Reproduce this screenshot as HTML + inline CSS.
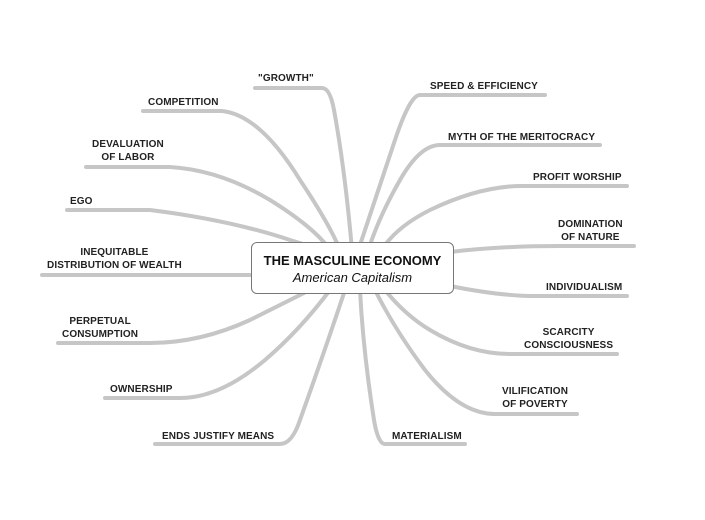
<!DOCTYPE html>
<html><head><style>
html,body{margin:0;padding:0;background:#fff;}
body{width:705px;height:520px;position:relative;overflow:hidden;font-family:"Liberation Sans",sans-serif;}
.t{position:absolute;font-size:10px;font-weight:bold;color:#222;text-align:center;line-height:13px;white-space:nowrap;letter-spacing:0.1px}
.box{position:absolute;left:251px;top:242px;width:201px;height:50px;border:1.5px solid #777;border-radius:6px;background:#fff;text-align:center;color:#111}
</style></head><body>
<svg width="705" height="520" style="position:absolute;left:0;top:0" fill="none" stroke="#c6c6c6" stroke-width="4" stroke-linecap="round">
<path d="M255 88 H322 Q330 88 334 110 Q345 170 352 250"/>
<path d="M143 111 H222 Q260 115 300 180 Q330 225 340 250"/>
<path d="M86 167 H170 Q220 170 270 200 Q315 228 330 250"/>
<path d="M67 210 H150 Q230 220 290 240 Q310 246 320 250"/>
<path d="M42 275 H260"/>
<path d="M58 343 H150 Q200 343 250 320 Q290 300 310 290"/>
<path d="M105 398 H180 Q220 398 265 360 Q300 330 330 290"/>
<path d="M155 444 H280 Q292 444 300 420 Q325 350 345 290"/>
<path d="M385 444 H465 M385 444 Q378 444 374 420 Q363 350 360 290"/>
<path d="M495 414 H577 M495 414 Q460 414 425 370 Q395 330 375 290"/>
<path d="M510 354 H617 M510 354 Q470 354 430 330 Q405 315 385 290"/>
<path d="M450 286 Q500 296 535 296 H627"/>
<path d="M450 252 Q500 246 560 246 H634"/>
<path d="M522 186 H627 M522 186 Q480 186 430 210 Q400 225 385 245"/>
<path d="M440 145 H600 M440 145 Q420 145 400 180 Q380 215 370 245"/>
<path d="M420 95 H545 M420 95 Q410 95 395 140 Q375 200 360 245"/>
</svg>
<div class="box"><div style="font-size:13px;font-weight:bold;margin-top:9px;line-height:17px">THE MASCULINE ECONOMY</div><div style="font-size:13px;font-style:italic;line-height:17px">American Capitalism</div></div>
<div class="t" style="left:258px;top:72px">"GROWTH"</div>
<div class="t" style="left:148px;top:96px">COMPETITION</div>
<div class="t" style="left:92px;top:138px">DEVALUATION<br>OF LABOR</div>
<div class="t" style="left:70px;top:195px">EGO</div>
<div class="t" style="left:47px;top:246px">INEQUITABLE<br>DISTRIBUTION OF WEALTH</div>
<div class="t" style="left:62px;top:315px">PERPETUAL<br>CONSUMPTION</div>
<div class="t" style="left:110px;top:383px">OWNERSHIP</div>
<div class="t" style="left:162px;top:430px">ENDS JUSTIFY MEANS</div>
<div class="t" style="left:392px;top:430px">MATERIALISM</div>
<div class="t" style="left:502px;top:385px">VILIFICATION<br>OF POVERTY</div>
<div class="t" style="left:524px;top:326px">SCARCITY<br>CONSCIOUSNESS</div>
<div class="t" style="left:546px;top:281px">INDIVIDUALISM</div>
<div class="t" style="left:558px;top:218px">DOMINATION<br>OF NATURE</div>
<div class="t" style="left:533px;top:171px">PROFIT WORSHIP</div>
<div class="t" style="left:448px;top:131px">MYTH OF THE MERITOCRACY</div>
<div class="t" style="left:430px;top:80px">SPEED &amp; EFFICIENCY</div>
</body></html>
